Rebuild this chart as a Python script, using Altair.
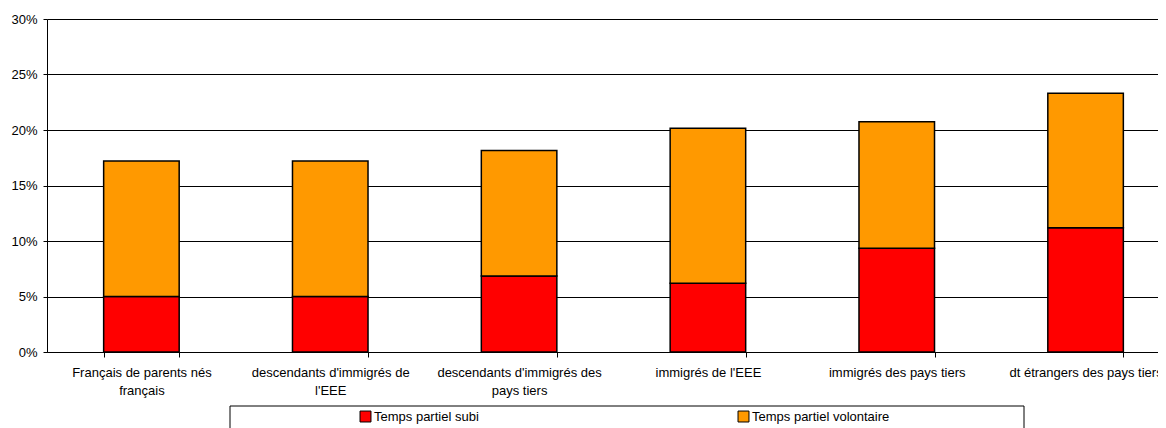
import altair as alt
import pandas as pd

categories = [
    "Français de parents nés\nfrançais",
    "descendants d'immigrés de\nl'EEE",
    "descendants d'immigrés des\npays tiers",
    "immigrés de l'EEE",
    "immigrés des pays tiers",
    "dt étrangers des pays tiers",
]
subi = [5.0, 5.0, 6.85, 6.2, 9.35, 11.2]
volontaire = [12.2, 12.2, 11.3, 13.95, 11.4, 12.1]
series = ["Temps partiel subi", "Temps partiel volontaire"]
colors = ["#FF0000", "#FF9900"]
y_ticks = [0, 0.05, 0.10, 0.15, 0.20, 0.25, 0.30]

rows = []
for i, c in enumerate(categories):
    rows.append({"cat": c, "serie": series[0], "value": subi[i] / 100, "ord": 0})
    rows.append({"cat": c, "serie": series[1], "value": volontaire[i] / 100, "ord": 1})
df = pd.DataFrame(rows)

FONT = "Liberation Sans"
FS = 13

bars = alt.Chart(df).mark_bar(stroke="black", strokeWidth=1.5).encode(
    x=alt.X(
        "cat:N",
        sort=categories,
        scale=alt.Scale(paddingInner=0.6, paddingOuter=0.3, range=[0, 1133]),
        axis=alt.Axis(
            title=None, labelAngle=0, labelExpr="split(datum.label, '\\n')",
            tickBand="extent", labelFontSize=FS, labelLineHeight=18, labelPadding=9,
            tickSize=5, domainColor="black", tickColor="black", labelColor="black",
            grid=False, labelLimit=400, labelFont=FONT,
        ),
    ),
    y=alt.Y(
        "value:Q",
        stack="zero",
        scale=alt.Scale(domain=[0, 0.3], nice=False),
        axis=alt.Axis(
            title=None, values=y_ticks, format=".0%", grid=True, gridColor="black",
            gridOpacity=1, gridWidth=1, domainColor="black", tickColor="black",
            tickSize=4, labelPadding=6, labelFontSize=FS, labelColor="black",
            labelFont=FONT,
        ),
    ),
    color=alt.Color(
        "serie:N",
        scale=alt.Scale(domain=series, range=colors),
        legend=alt.Legend(
            title=None, orient="none", legendX=312, legendY=391, direction="horizontal",
            symbolType="square", symbolSize=120, symbolStrokeColor="black",
            symbolStrokeWidth=1, labelFontSize=FS, labelColor="black", labelFont=FONT,
            columnPadding=257, labelOffset=2, padding=0,
        ),
    ),
    order=alt.Order("ord:Q"),
)

frame = alt.Chart(pd.DataFrame({"k": [0]})).mark_rect(
    fillOpacity=0, stroke="black", strokeWidth=1
).encode(
    x=alt.value(183), x2=alt.value(977), y=alt.value(387), y2=alt.value(440)
)

chart = alt.layer(bars, frame).properties(
    width=1111, height=333,
    autosize=alt.AutoSizeParams(type="none"),
    padding={"left": 39, "top": 11, "right": 0, "bottom": 76},
).configure_view(stroke=None).configure(font=FONT)

chart.save("out.html", embed_options={"renderer": "svg", "actions": False})
